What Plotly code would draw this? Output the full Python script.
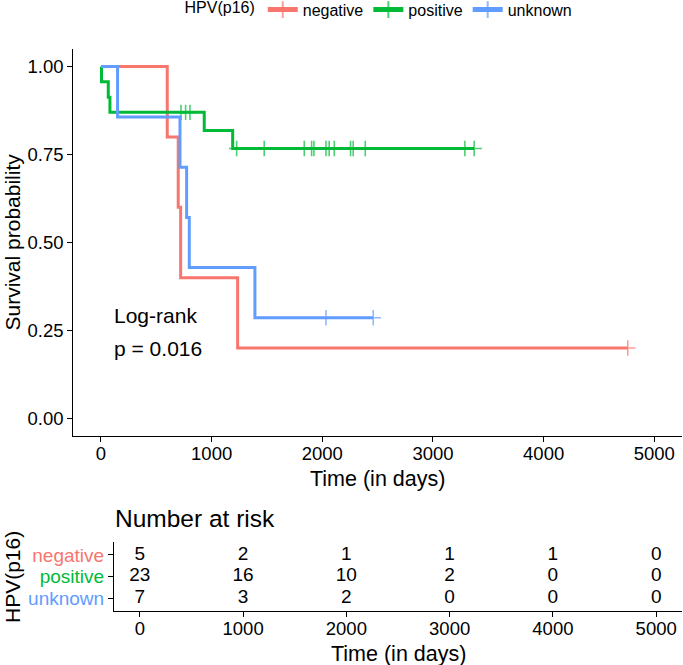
import plotly.graph_objects as go

# ---------------- data ----------------
groups = ["negative", "positive", "unknown"]
colors = {"negative": "#F8766D", "positive": "#00BA38", "unknown": "#619CFF"}

# step times (days) and survival probability after each time; censor flag 1 = censored
neg_time = [0, 599, 698, 720, 1235, 4760]
neg_surv = [1.0, 0.8, 0.6, 0.4, 0.2, 0.2]
neg_cens = [0, 0, 0, 0, 0, 1]

pos_time = [0, 5, 66, 81, 723, 765, 804, 933, 1190, 1226, 1475, 1837, 1903, 1924,
            2033, 2062, 2108, 2255, 2279, 2388, 3288, 3372]
pos_surv = [1.0, 0.957, 0.913, 0.870, 0.870, 0.870, 0.870, 0.818, 0.767, 0.767, 0.767,
            0.767, 0.767, 0.767, 0.767, 0.767, 0.767, 0.767, 0.767, 0.767, 0.767, 0.767]
pos_cens = [0, 0, 0, 0, 1, 1, 1, 0, 0, 1, 1, 1, 1, 1, 1, 1, 1, 1, 1, 1, 1, 1]

unk_time = [0, 150, 714, 774, 798, 1391, 2033, 2460]
unk_surv = [1.0, 0.857, 0.714, 0.571, 0.429, 0.286, 0.286, 0.286]
unk_cens = [0, 0, 0, 0, 0, 0, 1, 1]

risk_times = [0, 1000, 2000, 3000, 4000, 5000]
risk_neg = [5, 2, 1, 1, 1, 0]
risk_pos = [23, 16, 10, 2, 0, 0]
risk_unk = [7, 3, 2, 0, 0, 0]

x_ticks = [0, 1000, 2000, 3000, 4000, 5000]
y_ticks = [0.0, 0.25, 0.5, 0.75, 1.0]
pval_lines = ["Log-rank", "p = 0.016"]

series = {
    "negative": (neg_time, neg_surv, neg_cens, risk_neg),
    "positive": (pos_time, pos_surv, pos_cens, risk_pos),
    "unknown": (unk_time, unk_surv, unk_cens, risk_unk),
}
risk_row = {"negative": 3, "positive": 2, "unknown": 1}

# ---------------- layout helpers (pixels -> paper) ----------------
W, H = 683, 665
def px(x):
    return x / W
def py(y):
    return 1 - y / H

FONT = "Liberation Sans, Arial, sans-serif"

fig = go.Figure()

for g in groups:
    t, s, c, _ = series[g]
    sizes = [11 if ci else 0 for ci in c]
    fig.add_trace(go.Scatter(
        x=t, y=s, mode="lines+markers", name=g,
        line=dict(color=colors[g], width=3, shape="hv"),
        marker=dict(symbol="cross-thin-open", size=sizes,
                    line=dict(color=colors[g], width=1.6)),
        xaxis="x", yaxis="y", hoverinfo="skip",
    ))

for g in groups:
    _, _, _, r = series[g]
    fig.add_trace(go.Scatter(
        x=risk_times, y=[risk_row[g]] * len(risk_times), mode="text",
        text=[str(v) for v in r], textfont=dict(size=19, color="black", family=FONT),
        xaxis="x2", yaxis="y2", showlegend=False, hoverinfo="skip",
    ))

def axis_common(fs=18.5):
    return dict(showline=True, linecolor="black", linewidth=1.1, ticks="outside",
                ticklen=5, tickwidth=1.1, tickcolor="black", showgrid=False,
                zeroline=False, tickfont=dict(size=fs, color="black", family=FONT))

fig.update_layout(
    width=W, height=H, autosize=False,
    margin=dict(l=0, r=0, t=0, b=0, autoexpand=False),
    paper_bgcolor="white", plot_bgcolor="white",
    font=dict(family=FONT, color="black"),
    xaxis=dict(domain=[px(73.3), px(682)], range=[-250, 5250], anchor="y",
               tickvals=x_ticks, ticklabelstandoff=-4, **axis_common()),
    yaxis=dict(domain=[py(436), py(49)], range=[-0.05, 1.05], anchor="x",
               tickvals=y_ticks, ticktext=[f"{v:.2f}" for v in y_ticks], **axis_common()),
    xaxis2=dict(domain=[px(114), px(682)], range=[-250, 5250], anchor="y2",
                tickvals=x_ticks, ticklabelstandoff=-4, **axis_common()),
    yaxis2=dict(domain=[py(611), py(542)], range=[0.4, 3.6], anchor="x2",
                tickvals=[risk_row[g] for g in groups],
                ticktext=[f'<span style="color:{colors[g]}">{g}</span>' for g in groups],
                **axis_common(19)),
    legend=dict(orientation="h", x=px(380), xanchor="center", y=1.011, yanchor="top",
                font=dict(size=16, family=FONT), title=dict(text="HPV(p16)", side="left",
                font=dict(size=16, family=FONT)), itemsizing="constant",
                bgcolor="rgba(0,0,0,0)", tracegroupgap=0),
)

annos = [
    dict(text="Time (in days)", x=px(377.7), y=py(479), font=dict(size=21.5)),
    dict(text="Survival probability", x=px(12), y=py(242.5), textangle=-90, font=dict(size=21)),
    dict(text="Time (in days)", x=px(398), y=py(654), font=dict(size=21.5)),
    dict(text="HPV(p16)", x=px(12), y=py(577), textangle=-90, font=dict(size=21)),
]
for a in annos:
    fig.add_annotation(xref="paper", yref="paper", showarrow=False, xanchor="center",
                       yanchor="middle", **a)
fig.add_annotation(text="Number at risk", xref="paper", yref="paper", x=px(113), y=py(518),
                   xanchor="left", yanchor="middle", showarrow=False, font=dict(size=24.5))
fig.add_annotation(text=pval_lines[0], xref="x", yref="y", x=100, y=0.293,
                   xanchor="left", yanchor="middle", showarrow=False, font=dict(size=21))
fig.add_annotation(text=pval_lines[1], xref="x", yref="y", x=100, y=0.200,
                   xanchor="left", yanchor="middle", showarrow=False, font=dict(size=21))

fig.write_html("out.html")
